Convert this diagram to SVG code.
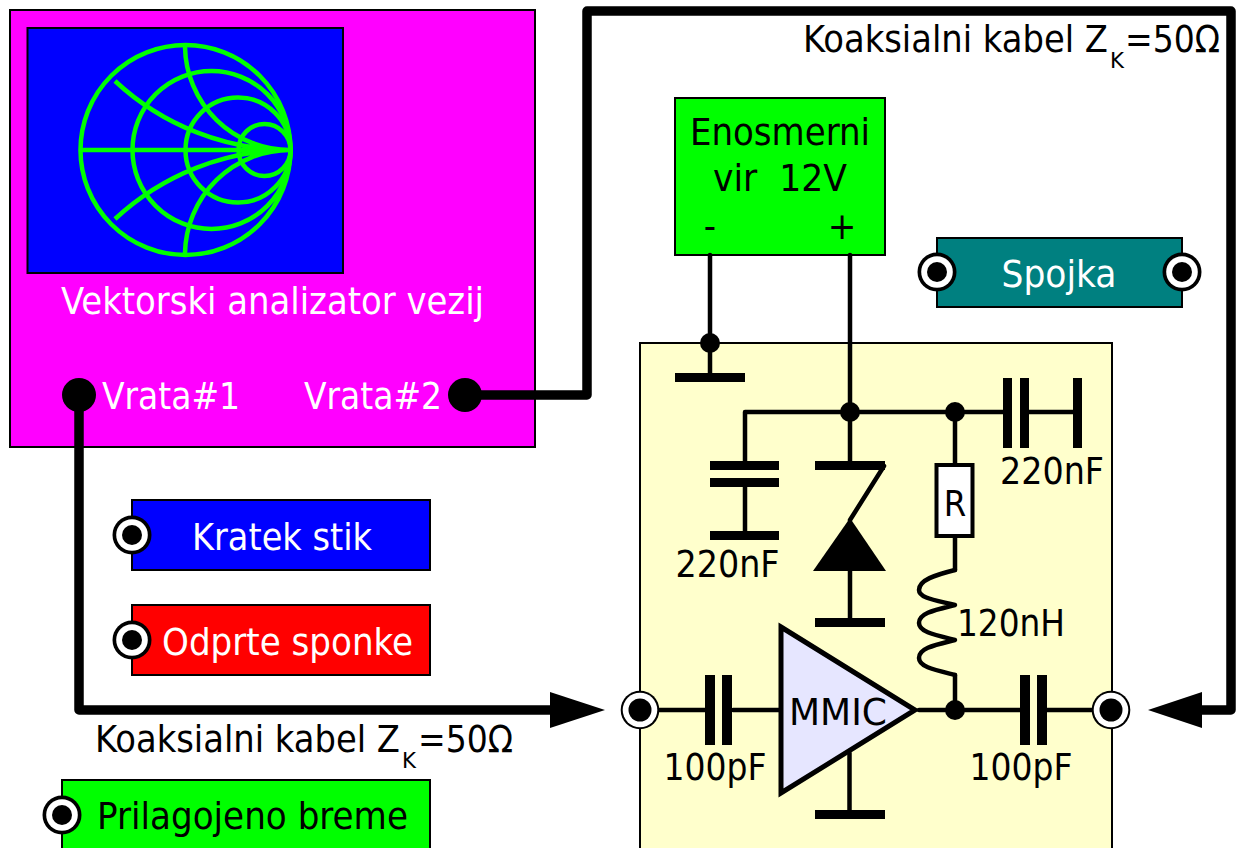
<svg xmlns="http://www.w3.org/2000/svg" width="1239" height="848" viewBox="0 0 1239 848">
<style>
text{font-family:"DejaVu Sans Condensed","DejaVu Sans",sans-serif;font-stretch:condensed;font-size:38px;fill:#000}
.w{fill:#fff}
.box{stroke:#000;stroke-width:2}
.s{font-size:22px}
.wire{fill:none;stroke:#000;stroke-width:4.500;stroke-linejoin:round;stroke-linecap:round}
.coax{fill:none;stroke:#000;stroke-width:9.500;stroke-linejoin:round}
.sm{fill:none;stroke:#0f0;stroke-width:4.500}
.plate{fill:#000}
</style>
<defs>
<g id="port"><circle r="19.300" fill="#000"/><circle r="17.300" fill="#fff"/><circle r="11.500" fill="#000"/></g>
<g id="portb"><circle r="19.500" fill="#000"/><circle r="15.800" fill="#fff"/><circle r="10" fill="#000"/></g>
</defs>

<g id="analyzer">
<rect class="box" x="10" y="10" width="525" height="437" fill="#f0f"/>
<rect class="box" x="27.500" y="28" width="315.500" height="245" fill="#00f"/>
<circle class="sm" cx="185.500" cy="150" r="105"/>
<circle class="sm" cx="211.500" cy="150" r="79"/>
<circle class="sm" cx="238" cy="150" r="52.500"/>
<circle class="sm" cx="264.500" cy="150" r="26"/>
<path class="sm" d="M81 150H290.500M185 47A105 105 0 0 0 290.500 150A105 105 0 0 0 185 253M115 81A257 257 0 0 0 290.500 150A257 257 0 0 0 115 219"/>
<text class="w" x="61" y="314" textLength="423" lengthAdjust="spacingAndGlyphs">Vektorski analizator vezij</text>
<text class="w" x="102" y="409" textLength="138" lengthAdjust="spacingAndGlyphs">Vrata#1</text>
<text class="w" x="304" y="409" textLength="138" lengthAdjust="spacingAndGlyphs">Vrata#2</text>
</g>

<g id="source">
<rect class="box" x="675" y="98" width="210" height="157" fill="#0f0"/>
<text x="780" y="145" text-anchor="middle" textLength="180" lengthAdjust="spacingAndGlyphs">Enosmerni</text>
<text x="713" y="191" xml:space="preserve" textLength="134" lengthAdjust="spacingAndGlyphs">vir  12V</text>
<text x="710" y="239" text-anchor="middle">-</text>
<text x="842" y="239" text-anchor="middle">+</text>
</g>

<g id="spojka">
<rect class="box" x="937" y="238" width="245" height="69" fill="#008080"/>
<text class="w" x="1059" y="287" text-anchor="middle" textLength="115" lengthAdjust="spacingAndGlyphs">Spojka</text>
<use href="#portb" x="937" y="272"/><use href="#portb" x="1182" y="272"/>
</g>

<g id="kratek">
<rect class="box" x="132" y="500" width="298" height="70" fill="#00f"/>
<text class="w" x="192" y="550" textLength="180" lengthAdjust="spacingAndGlyphs">Kratek stik</text>
<use href="#portb" x="132" y="535"/>
</g>
<g id="odprte">
<rect class="box" x="132" y="605" width="298" height="70" fill="#f00"/>
<text class="w" x="162" y="655" textLength="251" lengthAdjust="spacingAndGlyphs">Odprte sponke</text>
<use href="#portb" x="132" y="640"/>
</g>
<g id="breme">
<rect class="box" x="62" y="780" width="368" height="80" fill="#0f0"/>
<text x="97" y="829" textLength="311" lengthAdjust="spacingAndGlyphs">Prilagojeno breme</text>
<use href="#portb" x="62" y="815"/>
</g>

<g id="amp-board">
<rect class="box" x="640" y="343" width="472" height="520" fill="#ffc"/>
</g>

<g id="connectors">
<path class="wire" d="M710 255V377M850 255V465M745 465V412H1003M745 487V533M850 570V622M955 412V465M955 536V570M955 675V710M640 710H705M733 710H780M919 710H1020M1047 710H1111M1029 412H1073M849.500 753V812"/>
<path class="coax" d="M465 395H587V11H1231V710H1200"/>
<path class="coax" d="M79 395V710H552"/>
<polygon points="605,710 550,692 550,728" fill="#000"/>
<polygon points="1148,710 1202,692 1202,728" fill="#000"/>
<circle cx="79" cy="395" r="17"/><circle cx="465" cy="395" r="17"/>
</g>

<g id="ground1"><circle cx="710" cy="343" r="10"/><rect class="plate" x="675" y="373" width="70" height="9"/></g>
<g id="junction1"><circle cx="850" cy="412" r="10"/></g>
<g id="junction2"><circle cx="955" cy="412" r="10"/></g>
<g id="junction3"><circle cx="955" cy="710" r="10"/></g>

<g id="c1"><rect class="plate" x="710" y="461" width="69" height="9"/><rect class="plate" x="710" y="478" width="69" height="9"/><rect class="plate" x="710" y="531" width="69" height="9"/>
<text x="727.500" y="577" text-anchor="middle" textLength="104" lengthAdjust="spacingAndGlyphs">220nF</text></g>
<g id="c2"><rect class="plate" x="1003" y="378" width="9" height="70"/><rect class="plate" x="1020" y="378" width="9" height="70"/><rect class="plate" x="1073" y="378" width="9" height="70"/>
<text x="1052" y="484" text-anchor="middle" textLength="104" lengthAdjust="spacingAndGlyphs">220nF</text></g>

<g id="zener"><rect class="plate" x="815" y="461" width="70" height="9"/>
<path class="wire" d="M884 466L850 520" stroke-linecap="butt"/>
<polygon points="850,518 813,571 886,571" fill="#000"/>
<rect class="plate" x="815" y="618" width="70" height="9"/></g>

<g id="resistor"><rect x="936.500" y="465" width="36" height="71" fill="#fff" stroke="#000" stroke-width="4"/>
<text x="955" y="516" text-anchor="middle" style="font-size:36px">R</text></g>

<g id="inductor"><path class="wire" d="M955 570C935 575 919 580 919 590C919 598 935 600 955 605C935 610 919 613 919 623C919 632 935 635 955 640C935 645 919 648 919 658C919 667 935 670 955 675"/>
<text x="957" y="636" textLength="108" lengthAdjust="spacingAndGlyphs">120nH</text></g>

<g id="c3"><rect class="plate" x="705" y="675" width="10" height="70"/><rect class="plate" x="722" y="675" width="10" height="70"/>
<text x="715" y="780" text-anchor="middle" textLength="103" lengthAdjust="spacingAndGlyphs">100pF</text></g>
<g id="c4"><rect class="plate" x="1020" y="675" width="10" height="70"/><rect class="plate" x="1037" y="675" width="10" height="70"/>
<text x="1021" y="780" text-anchor="middle" textLength="103" lengthAdjust="spacingAndGlyphs">100pF</text></g>

<g id="mmic"><polygon points="781,627 915,710 781,793" fill="#e6e6ff" stroke="#000" stroke-width="5"/>
<text x="838" y="725" text-anchor="middle" textLength="98" lengthAdjust="spacingAndGlyphs">MMIC</text>
<rect class="plate" x="815" y="810" width="70" height="9"/></g>

<g id="ports"><use href="#port" x="640" y="710"/><use href="#port" x="1111" y="710"/></g>

<g id="label-cable-1">
<text x="803" y="52" textLength="305" lengthAdjust="spacingAndGlyphs">Koaksialni kabel Z</text>
<text class="s" x="1110" y="68" textLength="14" lengthAdjust="spacingAndGlyphs">K</text>
<text x="1125" y="52" textLength="95" lengthAdjust="spacingAndGlyphs">=50Ω</text>
</g>
<g id="label-cable-2">
<text x="95" y="752" textLength="305" lengthAdjust="spacingAndGlyphs">Koaksialni kabel Z</text>
<text class="s" x="402" y="768" textLength="14" lengthAdjust="spacingAndGlyphs">K</text>
<text x="418" y="752" textLength="95" lengthAdjust="spacingAndGlyphs">=50Ω</text>
</g>
</svg>
